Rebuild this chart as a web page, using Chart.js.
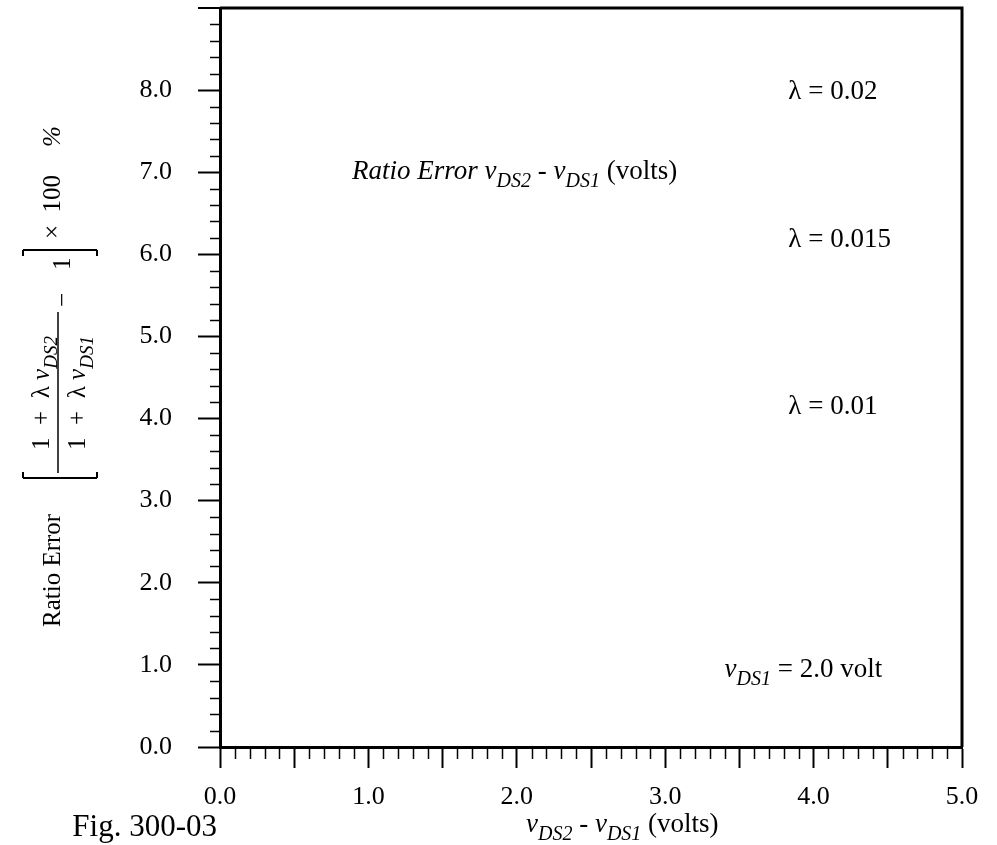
<!DOCTYPE html>
<html>
<head>
<meta charset="utf-8">
<script src="https://cdn.jsdelivr.net/npm/chart.js@4.4.1/dist/chart.umd.min.js"></script>
<style>
  html, body { margin: 0; padding: 0; background: #fff; }
  #wrap { width: 997px; height: 845px; position: relative; }
</style>
</head>
<body>
<div id="wrap"><canvas id="chart"></canvas></div>
<script>
// tick labels
var xTickLabels = ['0.0', '1.0', '2.0', '3.0', '4.0', '5.0'];
var yTickLabels = ['0.0', '1.0', '2.0', '3.0', '4.0', '5.0', '6.0', '7.0', '8.0'];
// curve families (no curves are drawn in the reference figure)
var lambdaLabels = ['0.02', '0.015', '0.01'];
var lambdaCurves = [[], [], []];
var vDS1 = '2.0';

var SERIF = '"Liberation Serif", "Times New Roman", serif';

function fontFor(style, size) {
  if (style === 'i') return 'italic ' + size + 'px ' + SERIF;
  if (style === 's') return 'italic ' + Math.round(size * 0.74) + 'px ' + SERIF;
  return size + 'px ' + SERIF;
}
function richWidth(ctx, parts, size) {
  var w = 0;
  parts.forEach(function (p) { ctx.font = fontFor(p[1], size); w += ctx.measureText(p[0]).width; });
  return w;
}
function drawRich(ctx, parts, x, y, size, align) {
  var w = richWidth(ctx, parts, size);
  var cx = align === 'center' ? x - w / 2 : (align === 'right' ? x - w : x);
  ctx.textAlign = 'left';
  ctx.textBaseline = 'alphabetic';
  parts.forEach(function (p) {
    ctx.font = fontFor(p[1], size);
    ctx.fillText(p[0], cx, y + (p[1] === 's' ? size * 0.3 : 0));
    cx += ctx.measureText(p[0]).width;
  });
}
function line(ctx, x1, y1, x2, y2) {
  ctx.beginPath(); ctx.moveTo(x1, y1); ctx.lineTo(x2, y2); ctx.stroke();
}

var decor = {
  id: 'decor',
  afterDraw: function (chart) {
    var ctx = chart.ctx, a = chart.chartArea;
    var xs = chart.scales.x, ys = chart.scales.y;
    ctx.save();
    ctx.strokeStyle = '#000';
    ctx.fillStyle = '#000';

    // top + right frame
    ctx.lineWidth = 3;
    ctx.beginPath();
    ctx.moveTo(a.left, a.top); ctx.lineTo(a.right, a.top); ctx.lineTo(a.right, a.bottom);
    ctx.stroke();

    // top major tick (9.0, unlabelled)
    ctx.lineWidth = 2;
    var ty = Math.round(ys.getPixelForValue(9));
    line(ctx, a.left - 22, ty, a.left, ty);

    // minor ticks
    ctx.lineWidth = 1.5;
    for (var i = 1; i < 50; i++) {
      if (i % 5 === 0) continue;
      var px = Math.round(xs.getPixelForValue(i / 10)) + 0.5;
      line(ctx, px, a.bottom, px, a.bottom + 12);
    }
    for (var j = 1; j < 45; j++) {
      if (j % 5 === 0) continue;
      var py = Math.round(ys.getPixelForValue(j / 5)) + 0.5;
      line(ctx, a.left - 10, py, a.left, py);
    }

    var fs = 27;
    // annotations placed in data coordinates
    var lamY = [8.0, 6.2, 4.17];
    lambdaLabels.forEach(function (l, k) {
      drawRich(ctx, [['\u03bb = ' + l, 'n']], xs.getPixelForValue(3.83), ys.getPixelForValue(lamY[k]) + 9, fs, 'left');
    });
    drawRich(ctx, [['v', 'i'], ['DS1', 's'], [' = ' + vDS1 + ' volt', 'n']],
      xs.getPixelForValue(3.4), ys.getPixelForValue(0.96) + 9, fs, 'left');
    drawRich(ctx, [['Ratio Error v', 'i'], ['DS2', 's'], [' - ', 'n'], ['v', 'i'], ['DS1', 's'], [' (volts)', 'n']],
      xs.getPixelForValue(0.89), ys.getPixelForValue(7.03) + 9, fs, 'left');

    // x axis title
    drawRich(ctx, [['v', 'i'], ['DS2', 's'], [' - ', 'n'], ['v', 'i'], ['DS1', 's'], [' (volts)', 'n']],
      526, 832, 27, 'left');

    // figure label
    ctx.font = '31px ' + SERIF;
    ctx.textAlign = 'right';
    ctx.fillText('Fig. 300-03', 217, 836);

    // y axis title (rotated)
    ctx.save();
    ctx.translate(60, 627);
    ctx.rotate(-Math.PI / 2);
    var ts = 25;
    drawRich(ctx, [['Ratio Error', 'n']], 0, 0, ts, 'left');
    ctx.lineWidth = 2;
    // left bracket
    line(ctx, 149, -37, 149, 37);
    line(ctx, 149, -37, 155, -37);
    line(ctx, 149, 37, 155, 37);
    // fraction
    ctx.lineWidth = 1.5;
    line(ctx, 154, -2, 315, -2);
    drawRich(ctx, [['1  +  \u03bb ', 'n'], ['v', 'i'], ['DS2', 's']], 234, -11, ts, 'center');
    drawRich(ctx, [['1  +  \u03bb ', 'n'], ['v', 'i'], ['DS1', 's']], 234, 25, ts, 'center');
    drawRich(ctx, [['\u2212', 'n']], 320, 10, ts, 'left');
    drawRich(ctx, [['1', 'n']], 357, 10, ts, 'left');
    // right bracket
    ctx.lineWidth = 2;
    line(ctx, 377, -37, 377, 37);
    line(ctx, 377, -37, 371, -37);
    line(ctx, 377, 37, 371, 37);
    drawRich(ctx, [['\u00d7  100', 'n']], 388, 0, ts, 'left');
    drawRich(ctx, [['%', 'i']], 480, 0, ts, 'left');
    ctx.restore();

    ctx.restore();
  }
};

var ctx = document.getElementById('chart');
var chart = new Chart(ctx, {
  type: 'scatter',
  data: {
    datasets: lambdaLabels.map(function (l, k) {
      return { label: '\u03bb = ' + l, data: lambdaCurves[k], showLine: true,
               borderColor: '#000', borderWidth: 2, pointRadius: 0 };
    })
  },
  options: {
    responsive: true,
    maintainAspectRatio: false,
    animation: false,
    layout: { padding: { left: 0, top: 8, right: 35, bottom: 0 } },
    plugins: { legend: { display: false }, tooltip: { enabled: false } },
    scales: {
      x: {
        type: 'linear', min: 0, max: 5,
        border: { display: true, color: '#000', width: 3 },
        grid: { drawOnChartArea: false, drawTicks: true, tickLength: 21, tickColor: '#000', tickWidth: 2 },
        ticks: {
          stepSize: 0.5, color: '#000', padding: 14, maxRotation: 0, autoSkip: false,
          font: { family: SERIF, size: 26 },
          callback: function (v) { return Number.isInteger(v) ? xTickLabels[v] : ''; }
        },
        afterFit: function (s) { s.height = 98; s.paddingLeft = 0; s.paddingRight = 0; }
      },
      y: {
        type: 'linear', min: 0, max: 9,
        border: { display: true, color: '#000', width: 3 },
        grid: { drawOnChartArea: false, drawTicks: true, tickLength: 22, tickColor: '#000', tickWidth: 2 },
        ticks: {
          stepSize: 1, color: '#000', padding: 26, autoSkip: false,
          font: { family: SERIF, size: 26 },
          callback: function (v) { return v < yTickLabels.length ? yTickLabels[v] : null; }
        },
        afterFit: function (s) { s.width = 220; s.paddingTop = 0; s.paddingBottom = 0; }
      }
    }
  },
  plugins: [decor]
});
</script>
</body>
</html>
